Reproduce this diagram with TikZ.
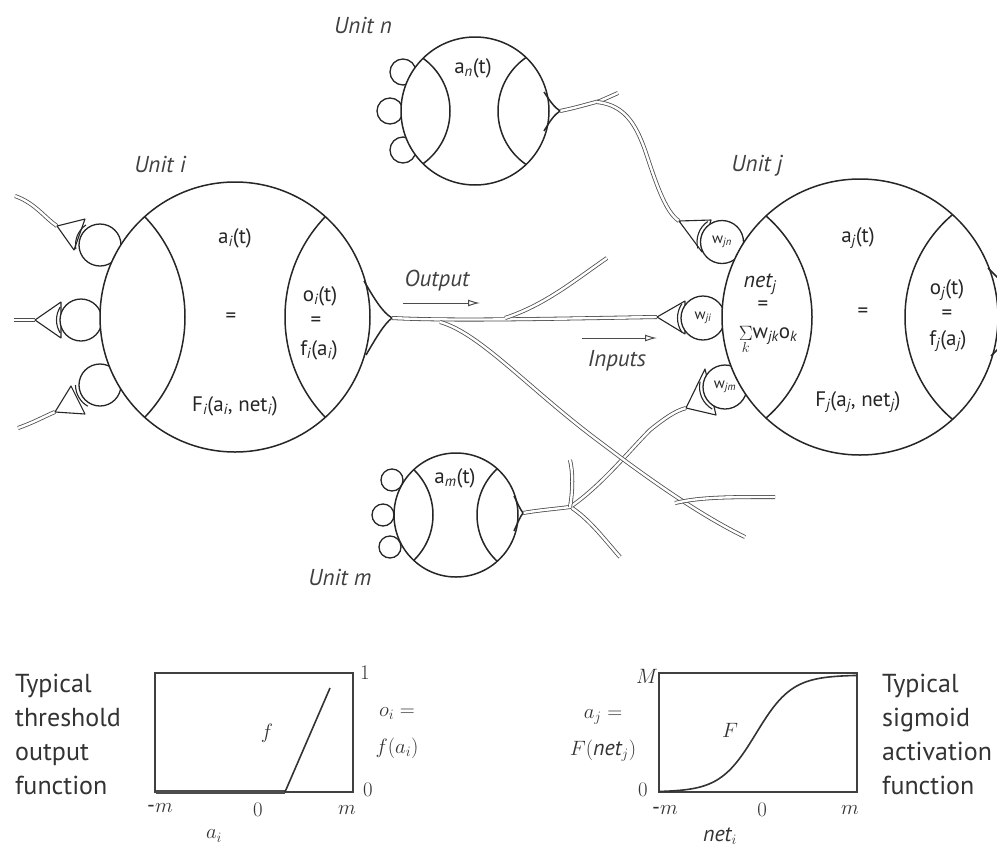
\documentclass[tikz,border=0pt]{standalone}
\usepackage{fontspec}
\setmainfont{PT Sans}
\usetikzlibrary{arrows.meta}
\newcommand\ssub[1]{\textsubscript{\itshape #1}}
\begin{document}
\begin{tikzpicture}[x=1pt,y=-1pt,
  cellline/.style={line width=1.5pt, draw=black!85},
  cell/.style={circle, draw=black!85, fill=white, line width=1.5pt, inner sep=0pt},
  axon/.style={draw=black!70, double=white, double distance=2.4pt, line width=0.8pt},
  spine/.style={circle, draw=black!85, fill=white, line width=1.3pt, inner sep=0pt},
  term/.style={draw=black!85, fill=white, line width=1.1pt, line join=round},
  termarc/.style={draw=black!85, line width=1.1pt},
  lab/.style={font=\fontsize{23}{28}\selectfont\itshape, text=black!75, inner sep=0pt},
  inlab/.style={font=\fontsize{21}{24}\selectfont, text=black!85, inner sep=0pt},
  wlab/.style={font=\fontsize{15}{18}\selectfont, text=black!85, inner sep=0pt},
  gl/.style={font=\fontsize{22}{26}\selectfont, text=black!80, inner sep=0pt},
  txt/.style={font=\fontsize{26}{34}\selectfont, text=black!80, align=left, inner sep=0pt},
  arr/.style={line width=1pt, draw=black!70, -{Latex[open,length=12pt,width=7pt]}},
  boxline/.style={line width=1.8pt, draw=black!75}
]
\useasboundingbox (0,0) rectangle (997,852);

% ---------- named points ----------
\coordinate (hi) at (392,318);
\coordinate (hn) at (560,111);
\coordinate (hm) at (523,513);
\coordinate (tjn) at (679,221);
\coordinate (tji) at (657,317);
\coordinate (tjm) at (686,408);
\coordinate (t1) at (57,226);
\coordinate (t2) at (35,320);
\coordinate (t3) at (55,412);
\coordinate (e1) at (15,196);
\coordinate (e2) at (14,320);
\coordinate (e3) at (18,428);
\coordinate (bi) at (607,258);
\coordinate (bd) at (745,537);
\coordinate (bs) at (775,497);
\coordinate (ns) at (618,93);
\coordinate (ms) at (570,460);
\coordinate (md) at (620,557);

% ---------- axons ----------
\draw[axon] (e1) .. controls (35,203) and (45,218) .. (t1);
\draw[axon] (e2) -- (t2);
\draw[axon] (e3) .. controls (35,422) and (45,416) .. (t3);
\draw[axon] (hi) .. controls (450,321) and (540,319) .. (tji);
\draw[axon] (505,318) .. controls (545,305) and (575,280) .. (bi);
\draw[axon] (hn) .. controls (575,108) and (588,104) .. (600,101) -- (ns);
\draw[axon] (597,102) .. controls (625,105) and (636,125) .. (645,150) .. controls (655,180) and (665,212) .. (tjn);
\draw[axon] (hm) .. controls (540,510) and (555,509) .. (570,507) .. controls (600,487) and (630,450) .. (650,430) .. controls (665,418) and (675,411) .. (tjm);
\draw[axon] (570,507) .. controls (573,490) and (573,472) .. (ms);
\draw[axon] (572,508) .. controls (590,520) and (605,540) .. (md);
\draw[axon] (440,322) .. controls (480,333) and (530,390) .. (600,442) .. controls (650,480) and (700,515) .. (bd);
\draw[axon] (675,503) .. controls (700,497) and (730,497) .. (bs);

% ---------- terminals ----------
\draw[term] (t1) -- (85,219) -- (74,250) -- cycle;
\draw[term] (t2) -- (61,302) -- (61,338) -- cycle;
\draw[term] (t3) -- (71,386) -- (85,414) -- cycle;
\draw[term] (tjn) -- (711,220) -- (702,252) -- cycle;
\draw[term] (tji) -- (685,301) -- (685,334) -- cycle;
\draw[term] (tjm) -- (705,369) -- (716,415) -- cycle;

% ---------- spines ----------
\node[spine, minimum size=42pt] (si1) at (100,245) {};
\node[spine, minimum size=42pt] (si2) at (81,320) {};
\node[spine, minimum size=42pt] (si3) at (100,385) {};
\node[spine, minimum size=26pt] (sn1) at (403,72) {};
\node[spine, minimum size=26pt] (sn2) at (390,111) {};
\node[spine, minimum size=26pt] (sn3) at (403,150) {};
\node[spine, minimum size=22pt] (sm1) at (392,480) {};
\node[spine, minimum size=22pt] (sm2) at (383,515) {};
\node[spine, minimum size=22pt] (sm3) at (390,547) {};
\node[spine, minimum size=43pt] (wjn) at (722,242) {};
\node[spine, minimum size=44pt] (wji) at (703,318) {};
\node[spine, minimum size=44pt] (wjm) at (725,387) {};

% second (inner) line of each terminal, hugging its spine
\draw[termarc] ([shift={(125:24.5pt)}]si1.center) arc[start angle=125, end angle=190, radius=24.5pt];
\draw[termarc] ([shift={(148:24.5pt)}]si2.center) arc[start angle=148, end angle=212, radius=24.5pt];
\draw[termarc] ([shift={(180:24.5pt)}]si3.center) arc[start angle=180, end angle=240, radius=24.5pt];
\draw[termarc] ([shift={(125:25pt)}]wjn.center) arc[start angle=125, end angle=195, radius=25pt];
\draw[termarc] ([shift={(146:25.5pt)}]wji.center) arc[start angle=146, end angle=214, radius=25.5pt];
\draw[termarc] ([shift={(168:25.5pt)}]wjm.center) arc[start angle=168, end angle=240, radius=25.5pt];

% ---------- cells ----------
\node[cell, minimum size=270pt] (ui) at (235,317) {};
\begin{scope}
  \clip (235,317) circle[radius=135pt];
  \draw[cellline] (40,317) circle[radius=145pt];
  \draw[cellline] (430,317) circle[radius=145pt];
\end{scope}
\draw[cellline] (364,281) .. controls (374,298) and (382,312) .. (hi);
\draw[cellline] (366,355) .. controls (376,338) and (384,324) .. (hi);

\node[cell, minimum size=148pt] (un) at (475,111) {};
\begin{scope}
  \clip (475,111) circle[radius=74pt];
  \draw[cellline] (385,111) circle[radius=65pt];
  \draw[cellline] (563,111) circle[radius=65pt];
\end{scope}
\draw[cellline] (544,92) .. controls (550,101) and (554,107) .. (hn);
\draw[cellline] (544,131) .. controls (550,121) and (554,115) .. (hn);

\node[cell, minimum size=124pt] (um) at (456,515) {};
\begin{scope}
  \clip (456,515) circle[radius=62pt];
  \draw[cellline] (370,515) circle[radius=63pt];
  \draw[cellline] (540,515) circle[radius=63pt];
\end{scope}
\draw[cellline] (514,496) .. controls (518,504) and (520,509) .. (hm);
\draw[cellline] (514,531) .. controls (518,522) and (520,517) .. (hm);

\node[cell, minimum size=276pt] (uj) at (860,317) {};
\begin{scope}
  \clip (860,317) circle[radius=138pt];
  \draw[cellline] (678,317) circle[radius=134pt];
  \draw[cellline] (1039,317) circle[radius=134pt];
\end{scope}
\draw[cellline] (988,268) -- (1003,283);
\draw[cellline] (991,356) -- (1003,344);

% ---------- labels ----------
\node[lab] (li) at (160,164) {Unit i};
\node[lab] (ln) at (363,25) {Unit n};
\node[lab] (lj) at (757,166) {Unit j};
\node[lab] (lm) at (340,577) {Unit m};

\node[inlab] (ai) at (235,238) {a\ssub{i}(t)};
\node[inlab] (eqi) at (231,318) {=};
\node[inlab] (Fi) at (235,406) {F\ssub{i}(a\ssub{i}, net\ssub{i})};
\node[inlab] (oi) at (320,296) {o\ssub{i}(t)};
\node[inlab] (eqoi) at (316,322) {=};
\node[inlab] (fi) at (319,350) {f\ssub{i}(a\ssub{i})};

\node[inlab] (an) at (473,68) {a\ssub{n}(t)};
\node[inlab] (am) at (455,478) {a\ssub{m}(t)};

\node[inlab] (aj) at (858,238) {a\ssub{j}(t)};
\node[inlab, font=\fontsize{22}{24}\selectfont\itshape] (netj) at (760,284) {net\ssub{j}};
\node[inlab] (eqn) at (763,306) {=};
\node[inlab, anchor=north] (sum) at (768,326) {\(\mathop{\Sigma}\limits_{k}\)w\ssub{jk}o\ssub{k}};
\node[inlab] (eqj) at (863,313) {=};
\node[inlab] (Fj) at (858,402) {F\ssub{j}(a\ssub{j}, net\ssub{j})};
\node[inlab] (oj) at (947,290) {o\ssub{j}(t)};
\node[inlab] (eqoj) at (947,315) {=};
\node[inlab] (fj) at (948,341) {f\ssub{j}(a\ssub{j})};

\node[wlab] at (wjn) {w\ssub{jn}};
\node[wlab] at (wji) {w\ssub{ji}};
\node[wlab] at (wjm) {w\ssub{jm}};

\node[lab] (out) at (437,281) {Output};
\coordinate (oa1) at (403,303); \coordinate (oa2) at (480,303);
\draw[arr] (oa1) -- (oa2);
\node[lab] (inp) at (617,361) {Inputs};
\coordinate (ia1) at (582,338); \coordinate (ia2) at (657,338);
\draw[arr] (ia1) -- (ia2);

% ---------- threshold graph ----------
\draw[boxline] (155,673) rectangle (353,792);
\draw[line width=3.4pt, black!70] (156,792) -- (285,792);
\draw[line width=1.6pt, black!80] (285,792) -- (330,688);
\node[gl] (g1) at (365,673) {$1$};
\node[gl] (g0r) at (368,790) {$0$};
\node[gl] (gmm) at (160,808) {-$m$};
\node[gl] (g0) at (258,810) {$0$};
\node[gl] (gm) at (347,810) {$m$};
\node[gl] (gai) at (214,836) {$a_i$};
\node[gl] (gf) at (267,733) {$f$};
\node[gl, align=center] (goi) at (397,733) {$o_i =$\\[11pt]$f(a_i)$};
\node[txt, anchor=west] (tt) at (15,734) {Typical\\threshold\\output\\function};

% ---------- sigmoid graph ----------
\draw[boxline] (659,673) rectangle (857,792);
\draw[line width=1.6pt, black!80] plot[domain=659:857, samples=80, smooth] (\x, {792 - 117/(1+exp(-(\x-756)/18))});
\node[gl] (sM) at (647,676) {$M$};
\node[gl] (s0l) at (643,790) {$0$};
\node[gl] (smm) at (665,810) {-$m$};
\node[gl] (s0) at (762,810) {$0$};
\node[gl] (sm) at (850,810) {$m$};
\node[gl] (snet) at (720,836) {$\mathit{net}_i$};
\node[gl] (sF) at (730,730) {$F$};
\node[gl, align=center] (saj) at (603,735) {$a_j =$\\[11pt]$F(\mathit{net}_j)$};
\node[txt, anchor=west] (ts) at (882,734) {Typical\\sigmoid\\activation\\function};
\end{tikzpicture}
\end{document}
